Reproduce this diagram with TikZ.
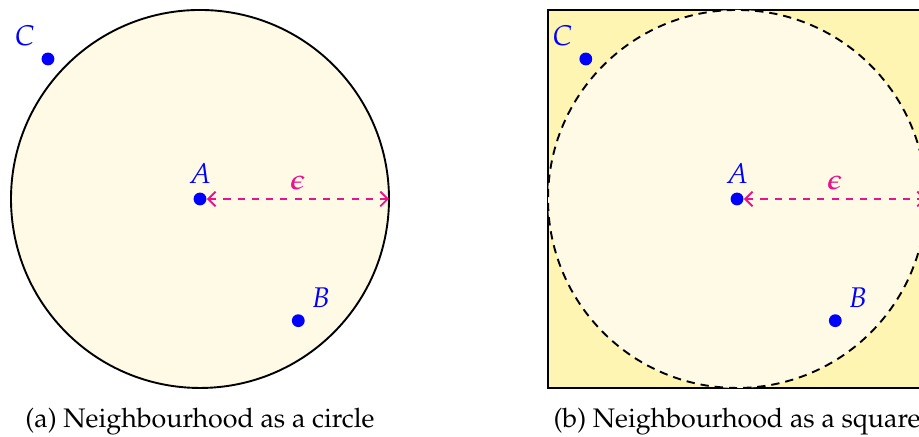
\documentclass[tikz,border=0pt]{standalone}
\usepackage[T1]{fontenc}
\usepackage{amsmath}
\usepackage{mathpazo}
\usetikzlibrary{arrows.meta}

\definecolor{nbfill}{RGB}{254,250,230}
\definecolor{sqfill}{RGB}{255,245,178}
\definecolor{epscol}{RGB}{232,20,140}

\begin{document}
\begin{tikzpicture}[
    pt/.style={circle, fill=blue, inner sep=0pt, minimum size=0.19cm},
    lbl/.style={text=blue, font=\large},
    nbh/.style={draw, thick, fill=nbfill},
    eps/.style={draw=epscol, thick, dashed, {Straight Barb[]}-{Straight Barb[]}},
    epslbl/.style={text=epscol, font=\large},
    subcap/.style={anchor=base, font=\fontsize{11.3}{13.5}\selectfont}
  ]
  \useasboundingbox (-2.963,-3.526) rectangle (10.652,2.948);

  % (a) neighbourhood as a circle
  \draw[nbh] (0,0) circle (2.8);
  \coordinate (e1) at (2.8,0);
  \node[pt, label={[lbl]above:$A$}] (a1) at (0,0) {};
  \node[pt, label={[lbl]above right:$B$}] (b1) at (1.456,-1.803) {};
  \node[pt, label={[lbl]above left:$C$}] (c1) at (-2.252,2.074) {};
  \draw[eps] (a1) -- node[above, epslbl] {$\boldsymbol{\epsilon}$} (e1);
  \node[subcap] (capa) at (0,-3.38) {(a) Neighbourhood as a circle};

  % (b) neighbourhood as a square
  \draw[thick, fill=sqfill] (5.156,-2.8) rectangle (10.756,2.8);
  \draw[nbh, dash pattern=on 3.5pt off 2.5pt] (7.956,0) circle (2.8);
  \coordinate (e2) at (10.756,0);
  \node[pt, label={[lbl]above:$A$}] (a2) at (7.956,0) {};
  \node[pt, label={[lbl]above right:$B$}] (b2) at (9.412,-1.803) {};
  \node[pt, label={[lbl]above left:$C$}] (c2) at (5.716,2.074) {};
  \draw[eps] (a2) -- node[above, epslbl] {$\boldsymbol{\epsilon}$} (e2);
  \node[subcap] (capb) at (7.956,-3.38) {(b) Neighbourhood as a square};
\end{tikzpicture}
\end{document}
